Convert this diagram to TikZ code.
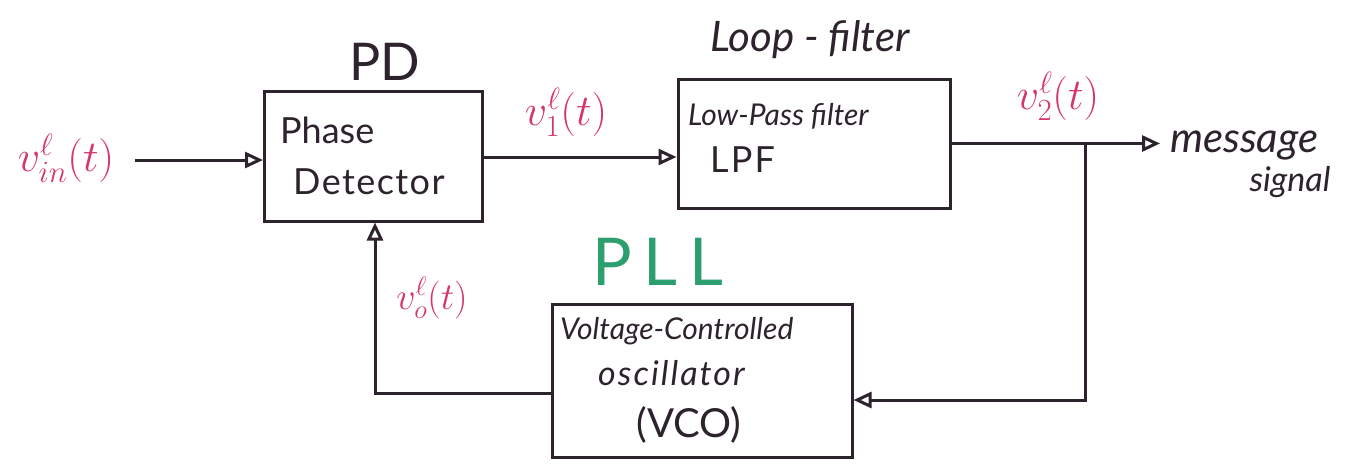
\RequirePackage{fix-cm}
\documentclass[tikz,border=0pt]{standalone}
\usepackage{fontspec}
\setmainfont{Lato}
\usetikzlibrary{arrows.meta}
\definecolor{pink}{RGB}{214,52,110}
\definecolor{pllgreen}{RGB}{45,158,110}
\definecolor{ink}{RGB}{45,35,45}
\tikzset{
  blk/.style={draw=ink, line width=3pt, minimum width=#1, inner sep=0pt},
  conn/.style={draw=ink, line width=3pt},
  tip/.style={-{Triangle[open,length=18pt,width=16pt]}},
  txt/.style={text=ink, inner sep=0pt, anchor=west},
  lbl/.style={text=pink, inner sep=0pt},
}
\begin{document}
\begin{tikzpicture}[x=1pt,y=-1pt]
\useasboundingbox (0,0) rectangle (1365,475);
% blocks
\node[blk=218pt, minimum height=130pt] (pd) at (373.5,156) {};
\node[blk=272pt, minimum height=129pt] (lpf) at (814,143.5) {};
\node[blk=300pt, minimum height=153pt] (vco) at (702,381) {};
% block texts
\node[txt, font=\fontsize{36}{40}\selectfont] (pdt1) at (280,130) {Phase};
\node[txt, font=\fontsize{36}{40}\selectfont\addfontfeature{LetterSpace=4}] (pdt2) at (293,182) {Detector};
\node[txt, font=\fontsize{30}{34}\selectfont\itshape] (lpt1) at (688,116) {Low-Pass filter};
\node[txt, font=\fontsize{36}{40}\selectfont\addfontfeature{LetterSpace=6}] (lpt2) at (710,160) {LPF};
\node[txt, font=\fontsize{30}{34}\selectfont\itshape] (vct1) at (560,331) {Voltage-Controlled};
\node[txt, font=\fontsize{34}{38}\selectfont\itshape\addfontfeature{LetterSpace=6}] (vct2) at (598,373) {oscillator};
\node[txt, font=\fontsize{40}{44}\selectfont] (vct3) at (636,425) {(VCO)};
% titles
\node[text=ink, inner sep=0pt, font=\fontsize{52}{56}\selectfont] (pdh) at (385,62) {PD};
\node[text=ink, inner sep=0pt, font=\fontsize{42}{46}\selectfont\itshape] (lfh) at (810,40) {Loop - filter};
\node[text=pllgreen, inner sep=0pt, font=\fontsize{66}{70}\selectfont\addfontfeature{LetterSpace=18}] (pll) at (658,262) {PLL};
\node[text=ink, inner sep=0pt, anchor=west, font=\fontsize{42}{46}\selectfont\itshape] (msg1) at (1170,146) {message};
\node[text=ink, inner sep=0pt, font=\fontsize{34}{38}\selectfont\itshape] (msg2) at (1290,182) {signal};
% signal labels
\node[lbl, font=\fontsize{44}{48}\selectfont] (vin) at (66,158) {$v^{\ell}_{in}(t)$};
\node[lbl, font=\fontsize{44}{48}\selectfont] (v1) at (566,112) {$v^{\ell}_{1}(t)$};
\node[lbl, font=\fontsize{44}{48}\selectfont] (v2) at (1058,96) {$v^{\ell}_{2}(t)$};
\node[lbl, font=\fontsize{38}{42}\selectfont] (vo) at (432,298) {$v^{\ell}_{o}(t)$};
% connectors
\coordinate (in) at (135,160);
\coordinate (out) at (1160,143.5);
\coordinate (br) at (1085,143.5);
\coordinate (brd) at (1085,400);
\coordinate (fbx) at (375,393);
\draw[conn, tip] (in) -- (in -| pd.west);
\draw[conn, tip] (pd.east |- 0,157) -- (lpf.west |- 0,157);
\draw[conn, tip] (lpf.east) -- (out);
\draw[conn, tip] (br) -- (brd) -- (brd -| vco.east);
\draw[conn, tip] (vco.west |- fbx) -- (fbx) -- (fbx |- pd.south);
\end{tikzpicture}
\end{document}
